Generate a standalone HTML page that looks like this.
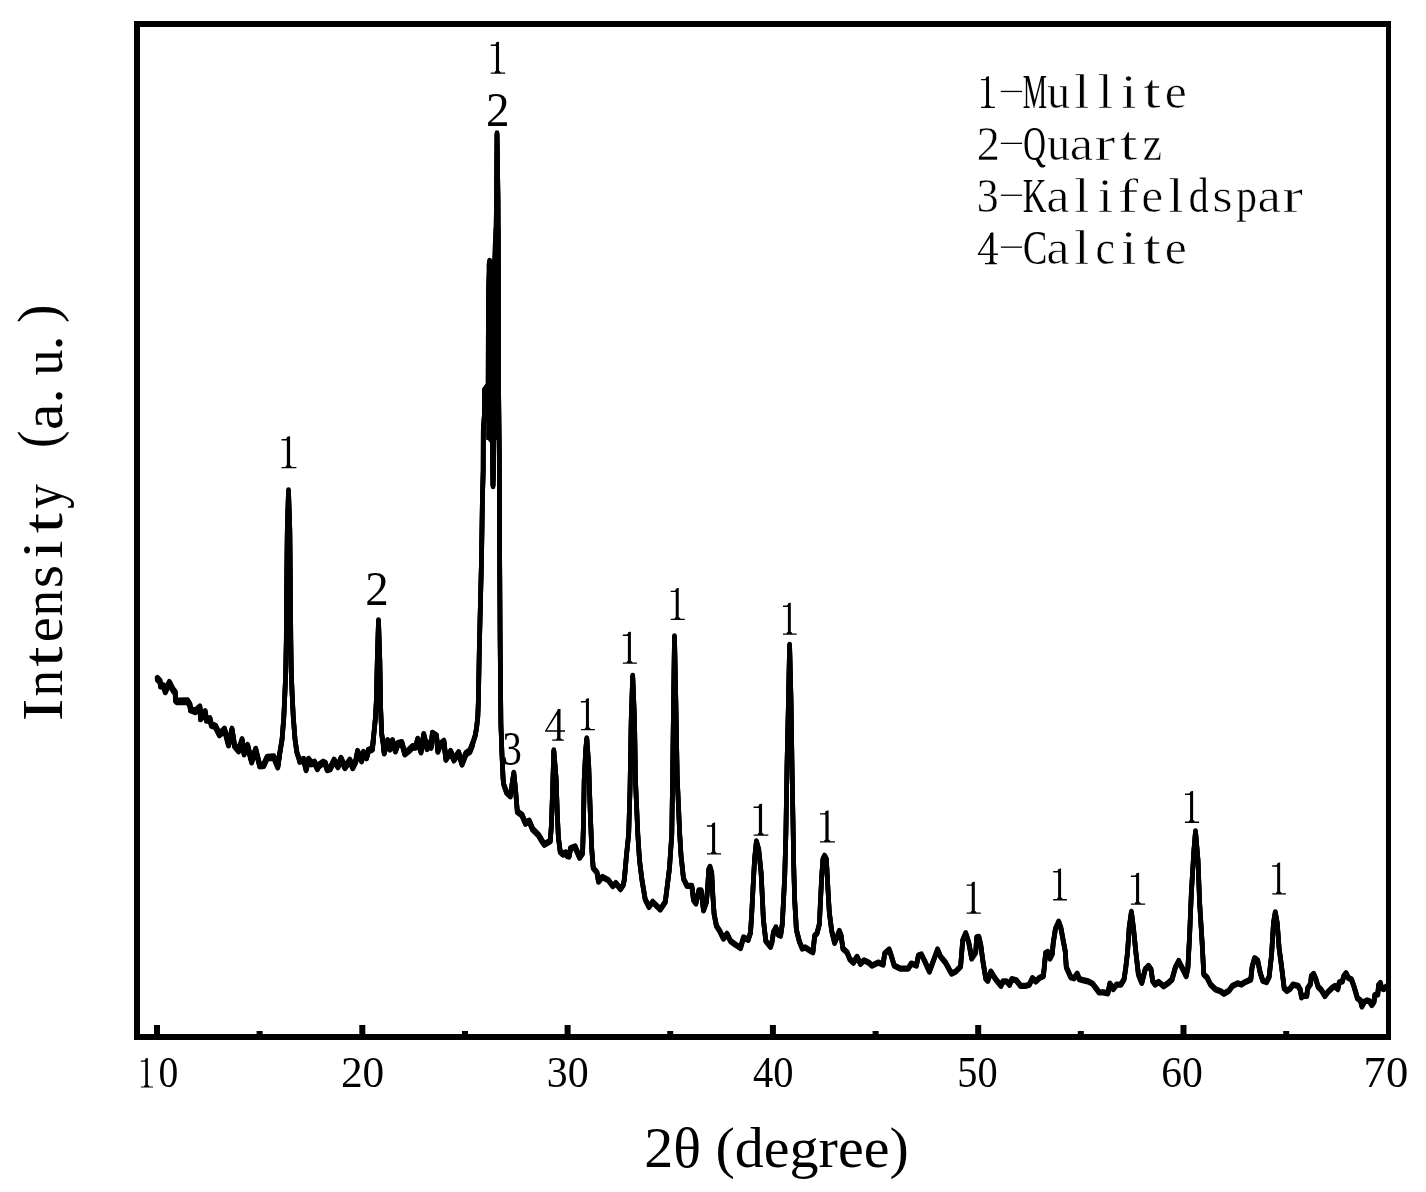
<!DOCTYPE html>
<html><head><meta charset="utf-8"><title>XRD pattern</title>
<style>html,body{margin:0;padding:0;background:#fff;}body{width:1426px;height:1192px;overflow:hidden;font-family:"Liberation Serif",serif;}svg{display:block;filter:grayscale(1);}</style>
</head><body>
<svg width="1426" height="1192" viewBox="0 0 1426 1192"><rect x="134" y="21" width="1257" height="6" fill="#000"/>
<rect x="134" y="1034" width="1257" height="6" fill="#000"/>
<rect x="134" y="21" width="6" height="1019" fill="#000"/>
<rect x="1386" y="21" width="5" height="1019" fill="#000"/>
<rect x="154.0" y="1025" width="6" height="10" fill="#000"/>
<rect x="359.3" y="1025" width="6" height="10" fill="#000"/>
<rect x="564.6" y="1025" width="6" height="10" fill="#000"/>
<rect x="769.9" y="1025" width="6" height="10" fill="#000"/>
<rect x="975.2" y="1025" width="6" height="10" fill="#000"/>
<rect x="1180.5" y="1025" width="6" height="10" fill="#000"/>
<rect x="256.6" y="1031" width="6" height="4" fill="#000"/>
<rect x="462.0" y="1031" width="6" height="4" fill="#000"/>
<rect x="667.2" y="1031" width="6" height="4" fill="#000"/>
<rect x="872.6" y="1031" width="6" height="4" fill="#000"/>
<rect x="1077.8" y="1031" width="6" height="4" fill="#000"/>
<rect x="1283.2" y="1031" width="6" height="4" fill="#000"/>
<polygon points="486.6,264 488,259.5 490.5,259 492,262 493.6,228 500.6,228 500.8,440 486.3,440" fill="#000"/>
<defs><polyline id="crv" points="157.3,678.8 160.0,681.4 160.5,685.6 163.5,686.1 165.3,691.4 169.4,682.8 172.9,689.7 175.2,692.6 175.5,700.2 177.0,701.4 187.6,701.2 189.9,704.9 190.5,709.6 195.2,711.4 199.9,707.3 200.5,718.5 205.2,712.0 206.4,720.0 209.9,719.0 211.4,725.0 215.4,726.4 219.4,734.5 224.5,729.5 228.5,744.6 232.0,729.5 234.5,745.6 238.6,750.6 242.1,740.0 244.1,753.6 247.6,745.6 251.6,761.7 255.7,749.6 259.7,765.7 263.7,765.2 267.2,757.6 273.8,757.2 277.8,766.7 279.5,755.0 282.1,739.0 283.8,717.2 284.8,695.4 285.7,673.6 286.3,640.0 286.5,600.0 287.3,530.0 288.5,490.5 289.8,530.0 290.5,600.0 290.8,640.0 291.3,673.6 292.2,695.4 293.3,717.2 295.0,739.0 296.8,752.0 299.7,761.0 303.7,759.6 306.1,769.4 308.6,759.6 311.5,763.5 314.5,762.5 317.4,768.4 318.9,765.5 323.3,762.5 325.3,763.5 327.2,769.4 330.2,768.4 334.1,760.5 338.0,766.4 341.0,758.6 344.9,767.4 349.8,760.5 352.7,767.4 355.7,761.5 357.6,751.7 361.6,760.5 363.5,752.7 366.5,757.6 368.4,750.7 372.4,748.8 373.4,738.9 375.3,719.3 376.3,701.6 377.3,660.0 378.5,620.5 379.8,660.0 380.7,709.5 381.7,734.0 383.2,743.9 384.2,752.7 387.6,740.9 390.0,748.8 392.5,740.9 395.4,750.7 397.9,743.9 401.8,742.9 404.8,753.7 408.7,750.7 412.6,746.8 415.7,747.0 417.7,739.6 421.0,751.7 423.7,734.9 427.1,748.3 428.4,743.6 431.1,747.0 432.4,733.6 436.5,736.2 437.8,751.0 440.5,744.3 443.9,741.6 445.9,759.1 450.6,751.7 453.9,759.7 458.6,753.0 462.0,763.8 466.0,753.7 470.0,751.0 472.7,743.6 475.4,734.9 476.7,726.8 477.8,716.8 478.4,700.0 479.3,650.0 480.5,600.0 481.5,560.0 482.4,500.0 483.2,470.0 483.3,430.0 484.4,415.0 484.5,390.0 488.2,385.0 488.4,300.0 489.7,261.0 489.5,330.0 489.3,400.0 489.0,437.0 492.3,441.0 492.6,470.0 493.0,486.0 493.6,470.0 493.7,440.0 493.8,400.0 494.8,330.0 495.8,260.0 496.5,200.0 497.0,133.5 498.0,200.0 498.4,300.0 498.7,400.0 499.3,456.0 499.6,550.0 500.1,637.0 500.9,724.5 502.0,755.2 503.1,779.0 503.8,784.6 506.7,792.8 510.3,796.3 513.8,772.9 515.6,790.5 517.3,811.6 522.0,815.1 525.5,823.4 529.1,821.0 532.6,829.2 538.5,835.1 542.0,841.0 544.3,844.5 550.2,841.0 551.4,825.7 552.6,790.5 553.8,750.5 556.1,778.7 557.3,814.0 558.4,837.5 560.2,851.5 563.0,854.4 565.5,852.7 567.5,855.9 569.0,856.2 570.6,848.4 575.1,846.8 579.6,857.4 582.6,852.9 583.4,825.7 584.2,780.4 585.7,750.2 586.8,738.5 588.7,765.3 590.2,810.6 591.7,848.4 593.2,868.0 597.0,872.5 598.5,881.6 602.3,877.0 608.3,880.1 612.8,886.1 615.8,883.1 620.4,889.1 623.4,884.6 624.4,879.0 626.5,855.0 628.7,834.0 630.0,790.0 631.2,720.0 632.7,676.0 634.5,720.0 635.5,781.0 637.8,834.0 639.5,860.0 641.8,879.0 645.2,899.4 649.0,906.9 652.7,901.9 656.5,905.7 660.3,909.5 665.3,901.9 669.5,868.0 671.8,834.0 672.6,777.0 673.6,700.0 674.5,636.5 675.8,700.0 677.2,777.0 679.7,834.0 681.0,855.2 682.5,869.3 683.5,878.7 687.0,885.8 691.8,885.8 693.5,899.9 695.9,903.4 698.8,890.5 701.2,890.5 703.5,910.4 706.4,902.2 707.6,888.1 708.8,869.3 710.0,867.0 711.7,872.9 712.9,896.3 714.1,914.0 716.4,925.7 720.0,931.6 723.5,938.6 727.0,933.9 730.5,941.0 735.2,944.5 740.5,948.0 743.5,937.5 748.2,939.8 750.5,932.8 751.7,914.0 752.9,890.5 754.6,858.8 756.4,841.5 758.7,849.4 761.1,872.9 762.3,896.3 763.4,919.8 765.8,941.0 770.5,946.8 772.0,942.0 773.5,932.2 775.9,927.5 778.2,934.5 780.6,935.7 782.3,924.0 783.5,900.5 784.7,877.0 785.9,833.0 787.0,766.0 788.5,700.0 789.6,645.0 791.0,700.0 792.0,766.0 793.2,833.0 793.7,865.2 794.7,900.5 796.4,929.8 799.4,941.6 802.3,948.6 805.3,947.5 808.8,949.8 812.9,952.2 814.7,935.7 817.0,933.4 819.4,924.0 820.5,900.5 821.7,877.0 822.9,859.4 824.6,855.8 826.4,859.4 827.6,882.9 829.3,912.2 831.7,931.0 834.6,942.8 837.6,935.7 839.3,931.0 841.1,935.7 842.9,948.6 847.0,952.2 849.9,959.2 853.4,962.7 857.0,956.9 860.5,963.9 864.0,960.4 868.7,962.7 872.1,965.6 878.1,962.6 883.1,964.6 884.7,953.5 889.2,949.5 891.2,955.5 894.2,965.6 900.3,968.6 908.3,968.6 911.3,963.6 916.4,965.6 918.4,955.5 921.4,954.5 924.4,960.5 929.4,971.6 933.5,960.5 937.5,949.5 940.5,956.5 945.5,962.6 951.6,973.6 955.6,971.6 960.6,966.6 962.7,940.4 965.7,933.3 968.7,942.4 971.7,958.5 975.7,952.5 976.7,937.4 978.8,936.9 980.8,945.4 982.8,960.5 985.8,978.7 987.8,980.7 990.8,971.6 993.9,976.6 996.5,980.3 1000.9,985.8 1003.1,981.4 1006.4,981.4 1009.6,984.7 1011.8,979.2 1016.2,980.3 1020.5,985.8 1026.0,985.8 1029.3,984.7 1032.5,978.2 1035.8,981.4 1039.1,978.2 1043.4,976.0 1044.5,965.1 1045.6,953.1 1047.8,952.0 1050.0,958.5 1052.2,954.2 1053.2,943.3 1055.4,929.1 1058.7,921.8 1060.9,928.0 1063.1,940.0 1065.2,950.9 1066.3,967.3 1070.7,977.1 1074.0,978.2 1077.2,973.8 1079.4,979.2 1083.8,980.3 1088.1,981.4 1092.5,983.6 1095.8,988.0 1099.0,992.3 1103.4,992.3 1107.8,993.4 1109.9,983.6 1113.2,989.1 1116.5,984.7 1120.8,984.7 1124.1,979.2 1125.8,967.3 1127.5,952.6 1129.2,927.5 1131.4,912.0 1133.4,927.5 1135.9,952.6 1138.4,974.4 1141.8,982.8 1145.2,969.4 1148.5,966.0 1151.0,969.4 1152.7,981.1 1155.2,984.5 1158.6,982.0 1163.6,986.2 1168.6,982.8 1172.0,979.5 1175.3,967.7 1178.7,961.0 1182.9,969.4 1186.2,976.1 1187.9,967.7 1189.6,935.8 1191.3,893.9 1193.8,851.9 1195.5,831.5 1198.0,860.3 1199.6,902.3 1202.2,944.2 1203.8,974.4 1207.2,977.8 1210.5,984.5 1215.6,989.5 1220.6,991.2 1224.0,993.7 1228.8,990.9 1232.6,985.8 1237.6,983.3 1241.4,984.6 1245.2,982.1 1250.8,979.5 1252.1,967.0 1254.6,958.2 1257.7,960.7 1260.3,973.3 1262.8,980.8 1266.5,982.1 1269.1,977.0 1271.6,954.4 1273.5,922.9 1275.3,912.3 1277.2,922.9 1279.1,948.1 1281.6,967.0 1284.2,988.4 1286.7,990.9 1290.4,988.4 1293.0,984.6 1298.0,985.8 1300.4,990.0 1301.5,997.4 1303.0,995.9 1306.8,995.9 1307.6,988.3 1310.6,983.8 1311.3,976.3 1313.6,974.0 1315.9,979.3 1318.1,986.8 1321.1,989.8 1324.9,995.9 1327.9,992.1 1331.7,988.3 1334.7,986.1 1337.8,989.1 1339.3,982.3 1342.3,981.5 1343.8,976.3 1346.1,973.2 1348.3,977.8 1351.4,979.3 1353.6,985.3 1355.9,992.9 1357.4,998.2 1360.4,1000.4 1361.9,1006.5 1364.2,1001.9 1367.2,1000.4 1369.5,1001.2 1371.8,1005.0 1374.0,1001.9 1374.8,995.1 1377.8,994.4 1378.5,985.3 1380.4,983.0 1381.6,988.3 1383.8,989.1 1386.1,986.8" fill="none" stroke="#000" stroke-width="4.7" stroke-linejoin="round" stroke-linecap="round"/></defs>
<use href="#crv" y="-0.8"/>
<use href="#crv" y="0"/>
<use href="#crv" y="0.8"/>
<polyline points="157.3,678.8 160.0,681.4 160.5,685.6 163.5,686.1 165.3,691.4 169.4,682.8 172.9,689.7 175.2,692.6 175.5,700.2 177.0,701.4 187.6,701.2 189.9,704.9 190.5,709.6 195.2,711.4 199.9,707.3 200.5,718.5 205.2,712.0 206.4,720.0 209.9,719.0 211.4,725.0 215.4,726.4 219.4,734.5 224.5,729.5 228.5,744.6 232.0,729.5 234.5,745.6 238.6,750.6 242.1,740.0 244.1,753.6 247.6,745.6 251.6,761.7 255.7,749.6 259.7,765.7 263.7,765.2 267.2,757.6 273.8,757.2 277.8,766.7 279.5,755.0" transform="translate(0,-1.5)" fill="none" stroke="#000" stroke-width="4.7" stroke-linejoin="round" stroke-linecap="round"/>
<polyline points="157.3,678.8 160.0,681.4 160.5,685.6 163.5,686.1 165.3,691.4 169.4,682.8 172.9,689.7 175.2,692.6 175.5,700.2 177.0,701.4 187.6,701.2 189.9,704.9 190.5,709.6 195.2,711.4 199.9,707.3 200.5,718.5 205.2,712.0 206.4,720.0 209.9,719.0 211.4,725.0 215.4,726.4 219.4,734.5 224.5,729.5 228.5,744.6 232.0,729.5 234.5,745.6 238.6,750.6 242.1,740.0 244.1,753.6 247.6,745.6 251.6,761.7 255.7,749.6 259.7,765.7 263.7,765.2 267.2,757.6 273.8,757.2 277.8,766.7 279.5,755.0" transform="translate(0,1.5)" fill="none" stroke="#000" stroke-width="4.7" stroke-linejoin="round" stroke-linecap="round"/>
<polyline points="299.7,761.0 303.7,759.6 306.1,769.4 308.6,759.6 311.5,763.5 314.5,762.5 317.4,768.4 318.9,765.5 323.3,762.5 325.3,763.5 327.2,769.4 330.2,768.4 334.1,760.5 338.0,766.4 341.0,758.6 344.9,767.4 349.8,760.5 352.7,767.4 355.7,761.5 357.6,751.7 361.6,760.5 363.5,752.7 366.5,757.6 368.4,750.7 372.4,748.8 373.4,738.9" transform="translate(0,-1.5)" fill="none" stroke="#000" stroke-width="4.7" stroke-linejoin="round" stroke-linecap="round"/>
<polyline points="299.7,761.0 303.7,759.6 306.1,769.4 308.6,759.6 311.5,763.5 314.5,762.5 317.4,768.4 318.9,765.5 323.3,762.5 325.3,763.5 327.2,769.4 330.2,768.4 334.1,760.5 338.0,766.4 341.0,758.6 344.9,767.4 349.8,760.5 352.7,767.4 355.7,761.5 357.6,751.7 361.6,760.5 363.5,752.7 366.5,757.6 368.4,750.7 372.4,748.8 373.4,738.9" transform="translate(0,1.5)" fill="none" stroke="#000" stroke-width="4.7" stroke-linejoin="round" stroke-linecap="round"/>
<polyline points="383.2,743.9 384.2,752.7 387.6,740.9 390.0,748.8 392.5,740.9 395.4,750.7 397.9,743.9 401.8,742.9 404.8,753.7 408.7,750.7 412.6,746.8 415.7,747.0 417.7,739.6 421.0,751.7 423.7,734.9 427.1,748.3 428.4,743.6 431.1,747.0 432.4,733.6 436.5,736.2 437.8,751.0 440.5,744.3 443.9,741.6 445.9,759.1 450.6,751.7 453.9,759.7 458.6,753.0 462.0,763.8 466.0,753.7 470.0,751.0 472.7,743.6" transform="translate(0,-1.5)" fill="none" stroke="#000" stroke-width="4.7" stroke-linejoin="round" stroke-linecap="round"/>
<polyline points="383.2,743.9 384.2,752.7 387.6,740.9 390.0,748.8 392.5,740.9 395.4,750.7 397.9,743.9 401.8,742.9 404.8,753.7 408.7,750.7 412.6,746.8 415.7,747.0 417.7,739.6 421.0,751.7 423.7,734.9 427.1,748.3 428.4,743.6 431.1,747.0 432.4,733.6 436.5,736.2 437.8,751.0 440.5,744.3 443.9,741.6 445.9,759.1 450.6,751.7 453.9,759.7 458.6,753.0 462.0,763.8 466.0,753.7 470.0,751.0 472.7,743.6" transform="translate(0,1.5)" fill="none" stroke="#000" stroke-width="4.7" stroke-linejoin="round" stroke-linecap="round"/>
<polyline points="517.3,811.6 522.0,815.1 525.5,823.4 529.1,821.0 532.6,829.2 538.5,835.1 542.0,841.0 544.3,844.5 550.2,841.0" transform="translate(0,-1.0)" fill="none" stroke="#000" stroke-width="4.7" stroke-linejoin="round" stroke-linecap="round"/>
<polyline points="517.3,811.6 522.0,815.1 525.5,823.4 529.1,821.0 532.6,829.2 538.5,835.1 542.0,841.0 544.3,844.5 550.2,841.0" transform="translate(0,1.0)" fill="none" stroke="#000" stroke-width="4.7" stroke-linejoin="round" stroke-linecap="round"/>
<polyline points="560.2,851.5 563.0,854.4 565.5,852.7 567.5,855.9 569.0,856.2 570.6,848.4 575.1,846.8 579.6,857.4 582.6,852.9" transform="translate(0,-1.0)" fill="none" stroke="#000" stroke-width="4.7" stroke-linejoin="round" stroke-linecap="round"/>
<polyline points="560.2,851.5 563.0,854.4 565.5,852.7 567.5,855.9 569.0,856.2 570.6,848.4 575.1,846.8 579.6,857.4 582.6,852.9" transform="translate(0,1.0)" fill="none" stroke="#000" stroke-width="4.7" stroke-linejoin="round" stroke-linecap="round"/>
<path d="M5,0.8L7.0,0L8,0L8,31L5,31ZM0,2.7L4.0,2.7L7.0,0L8,0L8,3.2L5.4,4.1L0,4.1ZM0,30.6L13.9,30.6L13.9,31.9L0,31.9ZM3.6,30.7L4.5,29.1L8.5,29.1L9.8,30.7Z" fill="#000" transform="translate(140.90,1058.00) scale(0.8705,0.9279)"/>
<text x="-11.25" y="0" font-family="Liberation Serif" font-size="45" transform="translate(168.4,1087.2) scale(0.881,1)">0</text>
<text x="-22.63" y="0" font-family="Liberation Serif" font-size="45" transform="translate(362.70,1087.2) scale(0.963,1)">20</text>
<text x="-22.72" y="0" font-family="Liberation Serif" font-size="45" transform="translate(568.00,1087.2) scale(0.931,1)">30</text>
<text x="-22.08" y="0" font-family="Liberation Serif" font-size="45" transform="translate(772.80,1087.2) scale(0.901,1)">40</text>
<text x="-22.95" y="0" font-family="Liberation Serif" font-size="45" transform="translate(977.90,1087.2) scale(0.897,1)">50</text>
<text x="-22.61" y="0" font-family="Liberation Serif" font-size="45" transform="translate(1182.20,1087.2) scale(0.926,1)">60</text>
<text x="-23.13" y="0" font-family="Liberation Serif" font-size="45" transform="translate(1386.50,1087.2) scale(0.992,1)">70</text>
<text x="776.5" y="1166.7" font-family="Liberation Serif" font-size="58" text-anchor="middle">2θ (degree)</text>
<path d="M5,0.8L7.0,0L8,0L8,31L5,31ZM0,2.7L4.0,2.7L7.0,0L8,0L8,3.2L5.4,4.1L0,4.1ZM0,30.6L13.9,30.6L13.9,31.9L0,31.9ZM3.6,30.7L4.5,29.1L8.5,29.1L9.8,30.7Z" fill="#000" transform="translate(281.50,436.30) scale(1.0719,1.0031)"/>
<text x="-11.73" y="0" font-family="Liberation Serif" font-size="48" transform="translate(376.60,605.0) scale(0.977,1)">2</text>
<path d="M5,0.8L7.0,0L8,0L8,31L5,31ZM0,2.7L4.0,2.7L7.0,0L8,0L8,3.2L5.4,4.1L0,4.1ZM0,30.6L13.9,30.6L13.9,31.9L0,31.9ZM3.6,30.7L4.5,29.1L8.5,29.1L9.8,30.7Z" fill="#000" transform="translate(490.80,41.80) scale(1.0288,1.0031)"/>
<text x="-11.73" y="0" font-family="Liberation Serif" font-size="48" transform="translate(497.45,126.0) scale(0.982,1)">2</text>
<text x="-12.21" y="0" font-family="Liberation Serif" font-size="48" transform="translate(512.35,764.6) scale(0.802,1)">3</text>
<path d="M12.1,0.6L15.5,0L15.5,31L12.1,31ZM13.2,0L15.5,0L1.5,21.6L0,21.6ZM0,21.1L20,21.1L20,22.6L0,22.6ZM7.1,30.4L18.9,30.4L18.9,31.7L7.1,31.7ZM10.6,30.5L11.4,29.3L16.2,29.3L17,30.5Z" fill="#000" transform="translate(545.10,709.10) scale(0.9950,1.0000)"/>
<path d="M5,0.8L7.0,0L8,0L8,31L5,31ZM0,2.7L4.0,2.7L7.0,0L8,0L8,3.2L5.4,4.1L0,4.1ZM0,30.6L13.9,30.6L13.9,31.9L0,31.9ZM3.6,30.7L4.5,29.1L8.5,29.1L9.8,30.7Z" fill="#000" transform="translate(580.90,698.30) scale(1.0072,1.0031)"/>
<path d="M5,0.8L7.0,0L8,0L8,31L5,31ZM0,2.7L4.0,2.7L7.0,0L8,0L8,3.2L5.4,4.1L0,4.1ZM0,30.6L13.9,30.6L13.9,31.9L0,31.9ZM3.6,30.7L4.5,29.1L8.5,29.1L9.8,30.7Z" fill="#000" transform="translate(622.80,631.80) scale(1.0144,1.0031)"/>
<path d="M5,0.8L7.0,0L8,0L8,31L5,31ZM0,2.7L4.0,2.7L7.0,0L8,0L8,3.2L5.4,4.1L0,4.1ZM0,30.6L13.9,30.6L13.9,31.9L0,31.9ZM3.6,30.7L4.5,29.1L8.5,29.1L9.8,30.7Z" fill="#000" transform="translate(670.70,588.00) scale(1.0072,1.0031)"/>
<path d="M5,0.8L7.0,0L8,0L8,31L5,31ZM0,2.7L4.0,2.7L7.0,0L8,0L8,3.2L5.4,4.1L0,4.1ZM0,30.6L13.9,30.6L13.9,31.9L0,31.9ZM3.6,30.7L4.5,29.1L8.5,29.1L9.8,30.7Z" fill="#000" transform="translate(707.00,822.60) scale(1.0144,1.0031)"/>
<path d="M5,0.8L7.0,0L8,0L8,31L5,31ZM0,2.7L4.0,2.7L7.0,0L8,0L8,3.2L5.4,4.1L0,4.1ZM0,30.6L13.9,30.6L13.9,31.9L0,31.9ZM3.6,30.7L4.5,29.1L8.5,29.1L9.8,30.7Z" fill="#000" transform="translate(753.60,803.80) scale(1.0576,1.0031)"/>
<path d="M5,0.8L7.0,0L8,0L8,31L5,31ZM0,2.7L4.0,2.7L7.0,0L8,0L8,3.2L5.4,4.1L0,4.1ZM0,30.6L13.9,30.6L13.9,31.9L0,31.9ZM3.6,30.7L4.5,29.1L8.5,29.1L9.8,30.7Z" fill="#000" transform="translate(783.00,602.80) scale(0.9784,1.0031)"/>
<path d="M5,0.8L7.0,0L8,0L8,31L5,31ZM0,2.7L4.0,2.7L7.0,0L8,0L8,3.2L5.4,4.1L0,4.1ZM0,30.6L13.9,30.6L13.9,31.9L0,31.9ZM3.6,30.7L4.5,29.1L8.5,29.1L9.8,30.7Z" fill="#000" transform="translate(820.00,810.50) scale(1.0791,1.0031)"/>
<path d="M5,0.8L7.0,0L8,0L8,31L5,31ZM0,2.7L4.0,2.7L7.0,0L8,0L8,3.2L5.4,4.1L0,4.1ZM0,30.6L13.9,30.6L13.9,31.9L0,31.9ZM3.6,30.7L4.5,29.1L8.5,29.1L9.8,30.7Z" fill="#000" transform="translate(966.70,881.70) scale(1.0144,1.0031)"/>
<path d="M5,0.8L7.0,0L8,0L8,31L5,31ZM0,2.7L4.0,2.7L7.0,0L8,0L8,3.2L5.4,4.1L0,4.1ZM0,30.6L13.9,30.6L13.9,31.9L0,31.9ZM3.6,30.7L4.5,29.1L8.5,29.1L9.8,30.7Z" fill="#000" transform="translate(1053.20,868.40) scale(0.9856,1.0031)"/>
<path d="M5,0.8L7.0,0L8,0L8,31L5,31ZM0,2.7L4.0,2.7L7.0,0L8,0L8,3.2L5.4,4.1L0,4.1ZM0,30.6L13.9,30.6L13.9,31.9L0,31.9ZM3.6,30.7L4.5,29.1L8.5,29.1L9.8,30.7Z" fill="#000" transform="translate(1130.90,872.80) scale(1.0288,1.0031)"/>
<path d="M5,0.8L7.0,0L8,0L8,31L5,31ZM0,2.7L4.0,2.7L7.0,0L8,0L8,3.2L5.4,4.1L0,4.1ZM0,30.6L13.9,30.6L13.9,31.9L0,31.9ZM3.6,30.7L4.5,29.1L8.5,29.1L9.8,30.7Z" fill="#000" transform="translate(1185.00,790.90) scale(1.0144,1.0031)"/>
<path d="M5,0.8L7.0,0L8,0L8,31L5,31ZM0,2.7L4.0,2.7L7.0,0L8,0L8,3.2L5.4,4.1L0,4.1ZM0,30.6L13.9,30.6L13.9,31.9L0,31.9ZM3.6,30.7L4.5,29.1L8.5,29.1L9.8,30.7Z" fill="#000" transform="translate(1272.20,862.60) scale(0.9928,1.0031)"/>
<g transform="translate(0,108.0)" font-family="Liberation Serif" font-size="48.5"><path d="M5,0.8L7.0,0L8,0L8,31L5,31ZM0,2.7L4.0,2.7L7.0,0L8,0L8,3.2L5.4,4.1L0,4.1ZM0,30.6L13.9,30.6L13.9,31.9L0,31.9ZM3.6,30.7L4.5,29.1L8.5,29.1L9.8,30.7Z" fill="#000" transform="translate(981.10,-31.80) scale(0.9928,0.9969)"/><rect x="1000.87" y="-17.2" width="21.2" height="1.3" fill="#000"/><text x="-21.55" y="0" transform="translate(1034.94,0) scale(0.563,1)">M</text><text x="-12.03" y="0" stroke="#fff" stroke-width="0.47" transform="translate(1058.41,0) scale(0.935,1)">u</text><text x="-6.74" y="0" stroke="#fff" stroke-width="0.70" transform="translate(1081.88,0) scale(1.171,1)">l</text><text x="-6.74" y="0" stroke="#fff" stroke-width="0.70" transform="translate(1105.35,0) scale(1.171,1)">l</text><text x="-6.78" y="0" stroke="#fff" stroke-width="0.70" transform="translate(1128.82,0) scale(1.171,1)">i</text><text x="-6.83" y="0" stroke="#fff" stroke-width="0.70" transform="translate(1152.29,0) scale(1.321,1)">t</text><text x="-10.87" y="0" stroke="#fff" stroke-width="0.65" transform="translate(1175.76,0) scale(1.025,1)">e</text></g>
<g transform="translate(0,159.9)" font-family="Liberation Serif" font-size="48.5"><text x="-11.85" y="0" stroke="#fff" stroke-width="0.50" transform="translate(988.00,0) scale(0.952,1)">2</text><rect x="1000.87" y="-17.2" width="21.2" height="1.3" fill="#000"/><text x="-18.09" y="0" transform="translate(1034.94,0) scale(0.646,1)">Q</text><text x="-12.03" y="0" stroke="#fff" stroke-width="0.47" transform="translate(1058.41,0) scale(0.935,1)">u</text><text x="-11.28" y="0" stroke="#fff" stroke-width="0.70" transform="translate(1081.88,0) scale(1.086,1)">a</text><text x="-8.35" y="0" stroke="#fff" stroke-width="0.70" transform="translate(1105.35,0) scale(1.295,1)">r</text><text x="-6.83" y="0" stroke="#fff" stroke-width="0.70" transform="translate(1128.82,0) scale(1.321,1)">t</text><text x="-10.74" y="0" stroke="#fff" stroke-width="0.38" transform="translate(1152.29,0) scale(0.890,1)">z</text></g>
<g transform="translate(0,211.8)" font-family="Liberation Serif" font-size="48.5"><text x="-12.34" y="0" stroke="#fff" stroke-width="0.41" transform="translate(988.00,0) scale(0.903,1)">3</text><rect x="1000.87" y="-17.2" width="21.2" height="1.3" fill="#000"/><text x="-17.96" y="0" transform="translate(1034.94,0) scale(0.676,1)">K</text><text x="-11.28" y="0" stroke="#fff" stroke-width="0.70" transform="translate(1058.41,0) scale(1.086,1)">a</text><text x="-6.74" y="0" stroke="#fff" stroke-width="0.70" transform="translate(1081.88,0) scale(1.171,1)">l</text><text x="-6.78" y="0" stroke="#fff" stroke-width="0.70" transform="translate(1105.35,0) scale(1.171,1)">i</text><text x="-8.82" y="0" stroke="#fff" stroke-width="0.70" transform="translate(1128.82,0) scale(1.296,1)">f</text><text x="-10.87" y="0" stroke="#fff" stroke-width="0.65" transform="translate(1152.29,0) scale(1.025,1)">e</text><text x="-6.74" y="0" stroke="#fff" stroke-width="0.70" transform="translate(1175.76,0) scale(1.171,1)">l</text><text x="-12.71" y="0" stroke="#fff" stroke-width="0.24" transform="translate(1199.23,0) scale(0.822,1)">d</text><text x="-9.56" y="0" stroke="#fff" stroke-width="0.70" transform="translate(1222.70,0) scale(1.090,1)">s</text><text x="-11.57" y="0" stroke="#fff" stroke-width="0.31" transform="translate(1246.17,0) scale(0.853,1)">p</text><text x="-11.28" y="0" stroke="#fff" stroke-width="0.70" transform="translate(1269.64,0) scale(1.086,1)">a</text><text x="-8.35" y="0" stroke="#fff" stroke-width="0.70" transform="translate(1293.11,0) scale(1.295,1)">r</text></g>
<g transform="translate(0,263.7)" font-family="Liberation Serif" font-size="48.5"><path d="M12.1,0.6L15.5,0L15.5,31L12.1,31ZM13.2,0L15.5,0L1.5,21.6L0,21.6ZM0,21.1L20,21.1L20,22.6L0,22.6ZM7.1,30.4L18.9,30.4L18.9,31.7L7.1,31.7ZM10.6,30.5L11.4,29.3L16.2,29.3L17,30.5Z" fill="#000" transform="translate(977.90,-31.20) scale(1.0000,1.0000)"/><rect x="1000.87" y="-17.2" width="21.2" height="1.3" fill="#000"/><text x="-15.83" y="0" stroke="#fff" stroke-width="0.10" transform="translate(1034.94,0) scale(0.751,1)">C</text><text x="-11.28" y="0" stroke="#fff" stroke-width="0.70" transform="translate(1058.41,0) scale(1.086,1)">a</text><text x="-6.74" y="0" stroke="#fff" stroke-width="0.70" transform="translate(1081.88,0) scale(1.171,1)">l</text><text x="-10.94" y="0" stroke="#fff" stroke-width="0.40" transform="translate(1105.35,0) scale(0.902,1)">c</text><text x="-6.78" y="0" stroke="#fff" stroke-width="0.70" transform="translate(1128.82,0) scale(1.171,1)">i</text><text x="-6.83" y="0" stroke="#fff" stroke-width="0.70" transform="translate(1152.29,0) scale(1.321,1)">t</text><text x="-10.87" y="0" stroke="#fff" stroke-width="0.65" transform="translate(1175.76,0) scale(1.025,1)">e</text></g>
<g font-family="Liberation Serif" font-size="56.2"><text x="-9.38" y="0" transform="translate(61.9,709.80) rotate(-90) scale(1.214,1)">I</text><text x="-14.27" y="0" transform="translate(61.9,683.10) rotate(-90) scale(0.942,1)">n</text><text x="-7.92" y="0" transform="translate(61.9,656.40) rotate(-90) scale(1.297,1)">t</text><text x="-12.60" y="0" transform="translate(61.9,629.70) rotate(-90) scale(1.006,1)">e</text><text x="-14.27" y="0" transform="translate(61.9,603.00) rotate(-90) scale(0.942,1)">n</text><text x="-11.07" y="0" transform="translate(61.9,576.30) rotate(-90) scale(1.070,1)">s</text><text x="-7.86" y="0" transform="translate(61.9,549.60) rotate(-90) scale(1.149,1)">i</text><text x="-7.92" y="0" transform="translate(61.9,522.90) rotate(-90) scale(1.297,1)">t</text><text x="-14.28" y="0" transform="translate(61.9,496.20) rotate(-90) scale(0.878,1)">y</text><text x="-9.69" y="0" transform="translate(56.6,438.80) rotate(-90) scale(0.938,1)">(</text><text x="-13.08" y="0" transform="translate(61.9,416.10) rotate(-90) scale(1.066,1)">a</text><text x="-7.03" y="0" transform="translate(61.9,396.00) rotate(-90) scale(1.113,1)">.</text><text x="-13.94" y="0" transform="translate(61.9,362.70) rotate(-90) scale(0.918,1)">u</text><text x="-7.03" y="0" transform="translate(61.9,343.00) rotate(-90) scale(1.113,1)">.</text><text x="-9.03" y="0" transform="translate(56.6,314.00) rotate(-90) scale(0.993,1)">)</text></g></svg>
</body></html>
